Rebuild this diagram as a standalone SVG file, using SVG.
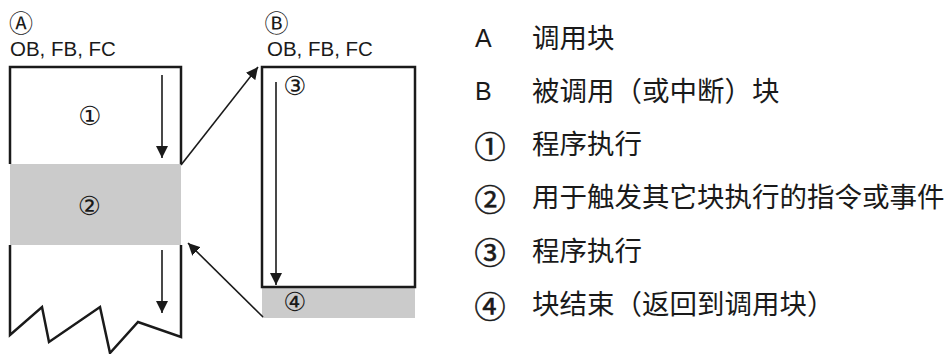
<svg xmlns="http://www.w3.org/2000/svg" width="950" height="354" viewBox="0 0 950 354">
<defs>
<style>
.lat{font-family:"Liberation Sans",Arial,sans-serif;fill:#1a1a1a}
.cjk{font-family:"Liberation Sans","Noto Sans CJK SC",sans-serif;fill:#1a1a1a;font-size:27.5px}
.cir{font-family:"DejaVu Sans","Noto Sans CJK SC",sans-serif;fill:#1a1a1a;text-anchor:middle;dominant-baseline:central}
.cirL{font-family:"Noto Sans CJK SC","DejaVu Sans",sans-serif;fill:#1a1a1a;stroke:#1a1a1a;stroke-width:0.6;text-anchor:middle;dominant-baseline:central;font-size:31px}
.box{fill:none;stroke:#1a1a1a;stroke-width:2.5;stroke-linejoin:miter}
.gray{fill:#cbcbcb}
.arr{fill:none;stroke:#1a1a1a;stroke-width:1.6}
</style>
<marker id="ah" viewBox="0 0 12 12" refX="12" refY="6" markerWidth="12" markerHeight="12" markerUnits="userSpaceOnUse" orient="auto">
<path d="M0,0 L12,6 L0,12 Z" fill="#1a1a1a"/>
</marker>
</defs>
<rect width="950" height="354" fill="#ffffff"/>

<g id="blockA">
<rect class="gray" x="10" y="164" width="171" height="81"/>
<path class="box" d="M10,164 V67 H181 V164"/>
<path class="box" d="M10,245 V335 L42,307 L49,342 L100,307 L110,353 L138,322 L181,337 V245"/>
<text class="cir" x="21" y="24" font-size="24">Ⓐ</text>
<text class="lat" x="10" y="56" font-size="20.5">OB, FB, FC</text>
<text class="cir" x="90" y="116" font-size="26">①</text>
<text class="cir" x="89.5" y="206" font-size="26">②</text>
</g>

<g id="blockB">
<rect class="gray" x="262" y="288" width="153" height="30"/>
<rect class="box" x="262" y="67" width="153" height="220"/>
<text class="cir" x="276.5" y="24" font-size="24">Ⓑ</text>
<text class="lat" x="267" y="56" font-size="20.5">OB, FB, FC</text>
<text class="cir" x="295" y="86" font-size="26">③</text>
<text class="cir" x="295" y="302" font-size="26">④</text>
</g>

<g id="connectors">
<line class="arr" x1="162" y1="75" x2="162" y2="158" marker-end="url(#ah)"/>
<line class="arr" x1="162" y1="250" x2="162" y2="313" marker-end="url(#ah)"/>
<line class="arr" x1="276" y1="82" x2="276" y2="285" marker-end="url(#ah)"/>
<line class="arr" x1="181" y1="165" x2="258" y2="67" marker-end="url(#ah)"/>
<line class="arr" x1="263" y1="317" x2="188" y2="243" marker-end="url(#ah)"/>
</g>

<g id="legend">
<text class="lat" x="475" y="46.5" font-size="25">A</text>
<text class="cjk" x="532" y="47.5">调用块</text>
<text class="lat" x="475" y="99.5" font-size="25">B</text>
<text class="cjk" x="532" y="100.5">被调用（或中断）块</text>
<text class="cirL" x="490" y="144">①</text>
<text class="cjk" x="532" y="154">程序执行</text>
<text class="cirL" x="490" y="197">②</text>
<text class="cjk" x="532" y="207">用于触发其它块执行的指令或事件</text>
<text class="cirL" x="490" y="250.5">③</text>
<text class="cjk" x="532" y="260.5">程序执行</text>
<text class="cirL" x="490" y="304">④</text>
<text class="cjk" x="532" y="314">块结束（返回到调用块）</text>
</g>
</svg>
